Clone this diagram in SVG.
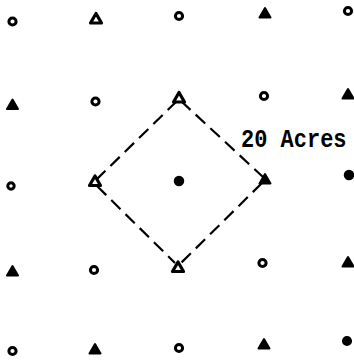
<svg xmlns="http://www.w3.org/2000/svg" width="354" height="360" viewBox="0 0 354 360">
<style>
.o{fill:#fff;stroke:#000;stroke-width:3}
.f{fill:#000;stroke:#000;stroke-width:1.5}
.t{fill:#fff;stroke:#000;stroke-width:3.2;stroke-linejoin:round}
.ts{fill:#000;stroke:#000;stroke-width:2;stroke-linejoin:round}
.edge{stroke:#000;stroke-width:2.2;fill:none;stroke-dasharray:13 7}
.lbl{font-family:"Liberation Mono","DejaVu Sans Mono",monospace;font-size:22px;font-weight:bold;fill:#000}
</style>
<defs>
<path id="tri" d="M0,-5 L5.5,4.5 L-5.5,4.5 Z"/>
</defs>
<rect width="354" height="360" fill="#fff"/>
<g id="connectors">
<line class="edge" x1="177" y1="101" x2="96" y2="180"/>
<line class="edge" x1="181" y1="101" x2="263" y2="177"/>
<line class="edge" x1="97" y1="186" x2="175" y2="263"/>
<line class="edge" x1="262" y1="183" x2="181" y2="263"/>
</g>
<g id="row1">
<circle class="o" cx="12.5" cy="21.5" r="3.6"/>
<use href="#tri" class="t" x="96" y="18.5"/>
<circle class="o" cx="179" cy="16" r="3.6"/>
<use href="#tri" class="ts" x="265" y="13"/>
<circle class="o" cx="348" cy="11" r="3.6"/>
</g>
<g id="row2">
<use href="#tri" class="ts" x="12.5" y="104.5"/>
<circle class="o" cx="95.5" cy="101.5" r="3.6"/>
<use href="#tri" class="t" x="179" y="97.5"/>
<circle class="o" cx="264" cy="96" r="3.6"/>
<use href="#tri" class="ts" x="348" y="94"/>
</g>
<g id="row3">
<circle class="o" cx="11" cy="186" r="3.2"/>
<use href="#tri" class="t" x="95" y="181"/>
<circle class="f" cx="179" cy="181" r="4.5"/>
<use href="#tri" class="ts" x="265" y="179"/>
<circle class="f" cx="349" cy="175" r="4.5"/>
</g>
<g id="row4">
<use href="#tri" class="ts" x="12.5" y="271"/>
<circle class="o" cx="94" cy="270" r="3.6"/>
<use href="#tri" class="t" x="178" y="267"/>
<circle class="o" cx="262.5" cy="263" r="3.6"/>
<use href="#tri" class="ts" x="348" y="262"/>
</g>
<g id="row5">
<circle class="o" cx="12.5" cy="351" r="3.6"/>
<use href="#tri" class="ts" x="95" y="349"/>
<circle class="o" cx="179" cy="348" r="3.6"/>
<use href="#tri" class="ts" x="264" y="344"/>
<circle class="f" cx="347" cy="341" r="4.3"/>
</g>
<g id="label">
<text class="lbl" transform="translate(241,147) scale(1,1.18)" x="0" y="0">20 Acres</text>
</g>
</svg>
